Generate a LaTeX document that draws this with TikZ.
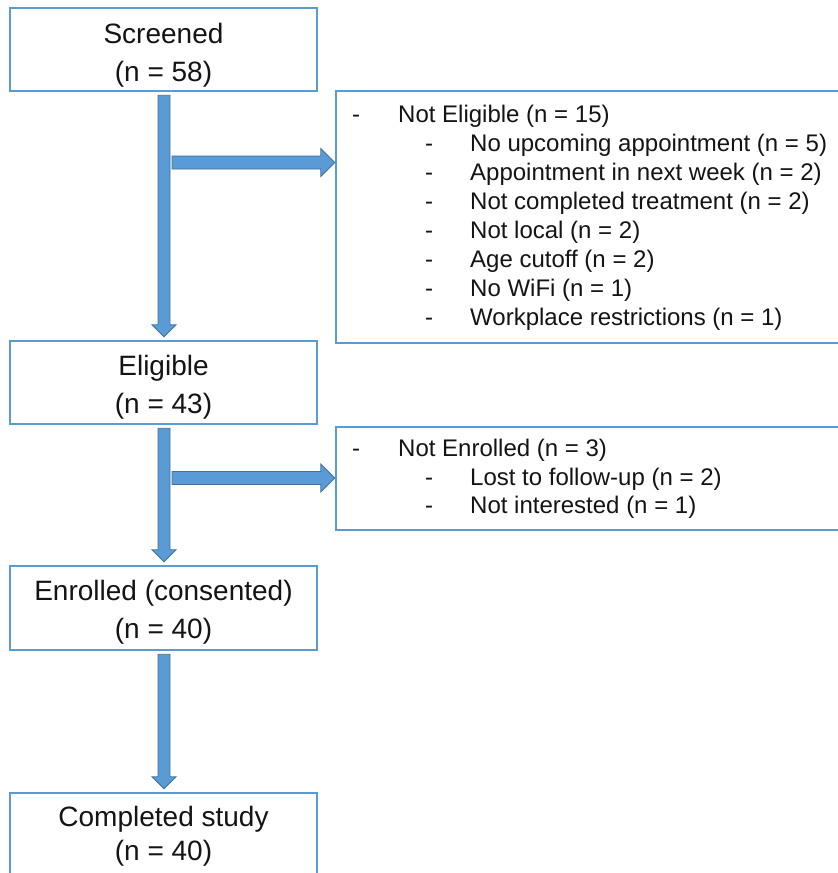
\documentclass[tikz,border=0pt]{standalone}
\usepackage{fontspec}
\setmainfont{Liberation Sans}
\usetikzlibrary{calc}
\definecolor{boxblue}{RGB}{91,155,213}
\definecolor{arrowedge}{RGB}{65,113,156}
\definecolor{txt}{RGB}{20,20,20}
\tikzset{
  mainbox/.style={draw=boxblue, line width=1.5pt, minimum width=307pt, minimum height=83pt, inner sep=0pt},
  sidebox/.style={draw=boxblue, line width=1.5pt, minimum width=520pt, inner sep=0pt},
  big/.style={font=\fontsize{28}{34}\selectfont, text=txt, anchor=base, inner sep=0pt},
  small/.style={font=\fontsize{24}{29}\selectfont, text=txt, anchor=base west, inner sep=0pt},
  blk/.style={fill=boxblue, draw=arrowedge, line width=0.8pt, line join=miter},
}
\newcommand{\downblk}[2]{\draw[blk] ($(#1)+(-6,0)$) -- ($(#1)+(6,0)$) -- ($(#2)+(6,-12)$) -- ($(#2)+(12,-12)$) -- (#2) -- ($(#2)+(-12,-12)$) -- ($(#2)+(-6,-12)$) -- cycle;}
\newcommand{\rightblk}[2]{\draw[blk] ($(#1)+(0,-6.5)$) -- ($(#2)+(-14,-6.5)$) -- ($(#2)+(-14,-14)$) -- (#2) -- ($(#2)+(-14,14)$) -- ($(#2)+(-14,6.5)$) -- ($(#1)+(0,6.5)$) -- cycle;}
\begin{document}
\begin{tikzpicture}[x=1pt,y=-1pt]
\clip (0,0) rectangle (838,873);
\fill[white] (0,0) rectangle (838,873);

% main boxes
\node[mainbox] (scr) at (163.5,49.5) {};
\node[big] (scr1) at (163.5,43.3) {Screened};
\node[big] (scr2) at (163.5,81.7) {(n = 58)};

\node[mainbox, minimum height=83pt] (eli) at (163.5,382.5) {};
\node[big] (eli1) at (163.5,375) {Eligible};
\node[big] (eli2) at (163.5,413.5) {(n = 43)};

\node[mainbox, minimum height=84pt] (enr) at (163.5,608) {};
\node[big] (enr1) at (163.5,600) {Enrolled (consented)};
\node[big] (enr2) at (163.5,638.3) {(n = 40)};

\node[mainbox, minimum height=90pt] (cmp) at (163.5,838) {};
\node[big] (cmp1) at (163.5,826.7) {Completed study};
\node[big] (cmp2) at (163.5,860) {(n = 40)};

% side boxes
\node[sidebox, minimum height=252pt] (ne1) at (596,217) {};
\node[small] (ne1d) at (352,122.7) {-};
\node[small] (ne1t) at (398,122.7) {Not Eligible (n = 15)};
\foreach \t [count=\i] in {No upcoming appointment (n = 5), Appointment in next week (n = 2), Not completed treatment (n = 2), Not local (n = 2), Age cutoff (n = 2), No WiFi (n = 1), Workplace restrictions (n = 1)}{
  \node[small] (ne1d\i) at (425,122.7+28.9*\i) {-};
  \node[small] (ne1t\i) at (470,122.7+28.9*\i) {\t};
}

\node[sidebox, minimum height=103pt] (ne2) at (596,478.5) {};
\node[small] (ne2d) at (352,456.7) {-};
\node[small] (ne2t) at (398,456.7) {Not Enrolled (n = 3)};
\node[small] (ne2d1) at (425,485) {-};
\node[small] (ne2t1) at (470,485) {Lost to follow-up (n = 2)};
\node[small] (ne2d2) at (425,513.3) {-};
\node[small] (ne2t2) at (470,513.3) {Not interested (n = 1)};

% arrows
\coordinate (d1s) at ($(scr.south)+(0.5,3.5)$);
\coordinate (d1t) at ($(eli.north)+(0.5,-3.5)$);
\downblk{d1s}{d1t}
\coordinate (r1s) at (172,162.5);
\coordinate (r1t) at ($(ne1.west |- r1s)+(-0.5,0)$);
\rightblk{r1s}{r1t}

\coordinate (d2s) at ($(eli.south)+(0.5,3.5)$);
\coordinate (d2t) at ($(enr.north)+(0.5,-3.5)$);
\downblk{d2s}{d2t}
\coordinate (r2s) at (172,478);
\coordinate (r2t) at ($(ne2.west |- r2s)+(-0.5,0)$);
\rightblk{r2s}{r2t}

\coordinate (d3s) at ($(enr.south)+(0.5,3.5)$);
\coordinate (d3t) at ($(cmp.north)+(0.5,-3.5)$);
\downblk{d3s}{d3t}
\end{tikzpicture}
\end{document}
